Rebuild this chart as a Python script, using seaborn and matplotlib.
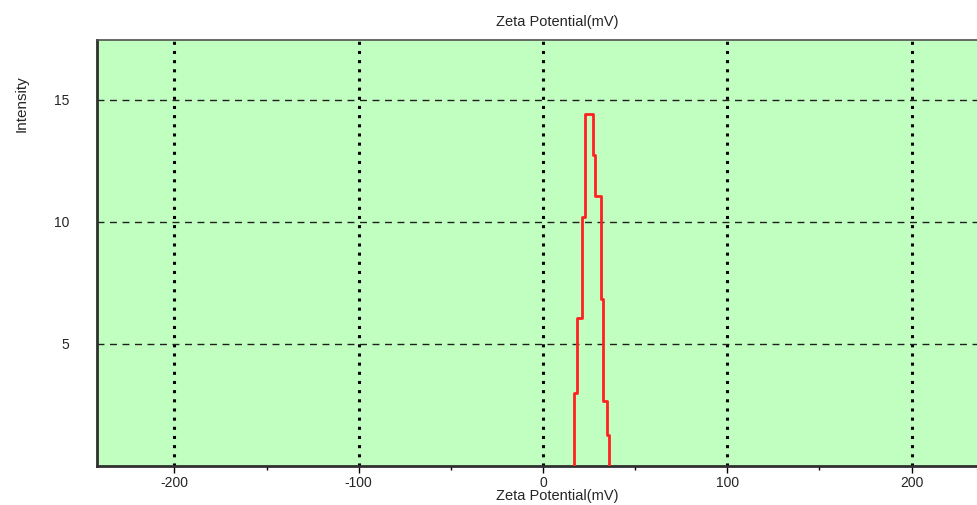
import numpy as np
import pandas as pd
import matplotlib
matplotlib.use("Agg")
import matplotlib.pyplot as plt
import seaborn as sns

# Data
zeta_edges = [16.8, 16.8, 18.3, 21.3, 22.6, 27.0, 28.1, 31.3, 32.7, 34.6, 35.8]
intensity = [0.0, 3.0, 6.05, 10.2, 14.4, 12.75, 11.05, 6.84, 2.65, 1.26, 0.0]
x_ticks = [-200, -100, 0, 100, 200]
y_ticks = [5, 10, 15]

sns.set_theme(style="white")
plt.rcParams['font.family'] = ['Liberation Sans', 'DejaVu Sans']

W, H = 978, 505
fig = plt.figure(figsize=(W / 100, H / 100), dpi=100)
left, right, top, bottom = 97, 989, 40, 466
ax = fig.add_axes([left / W, 1 - bottom / H, (right - left) / W, (bottom - top) / H])
ax.set_facecolor("#C0FFC0")

df = pd.DataFrame({"zeta": zeta_edges, "intensity": intensity})
sns.lineplot(data=df, x="zeta", y="intensity", ax=ax, estimator=None, sort=False,
             drawstyle="steps-post", color="#FF2020", linewidth=2.0, zorder=5)

ax.set_xlim(-242, 242)
ax.set_ylim(0, 17.45)
ax.set_xticks(x_ticks)
ax.set_xticklabels([str(v) for v in x_ticks])
ax.set_xticks([-150, -50, 50, 150], minor=True)
ax.set_yticks(y_ticks)
ax.set_yticklabels([str(v) for v in y_ticks])

for v in x_ticks:
    ax.axvline(v, color="black", linestyle=(0, (1, 2)), linewidth=2.2, zorder=2)
for v in y_ticks:
    ax.axhline(v, color="#202020", linestyle=(0, (5, 4)), linewidth=1.0, zorder=2)

ax.tick_params(axis="x", which="major", direction="out", length=5, width=1, color="black",
               labelsize=10, pad=2, bottom=True)
ax.tick_params(axis="x", which="minor", direction="out", length=3, width=1, color="black", bottom=True)
ax.tick_params(axis="y", which="major", direction="out", length=0, labelsize=10, pad=20, left=True)

for s in ["left", "bottom"]:
    ax.spines[s].set_color("#303030")
    ax.spines[s].set_linewidth(2.0)
ax.spines["top"].set_color("#505050")
ax.spines["top"].set_linewidth(1.2)
ax.spines["right"].set_visible(False)

ax.set_xlabel("")
ax.set_ylabel("")

fig.text(557 / W, 1 - 22 / H, "Zeta Potential(mV)", ha="center", va="center", fontsize=10.5)
fig.text(557 / W, 1 - 496 / H, "Zeta Potential(mV)", ha="center", va="center", fontsize=10.5)
fig.text(22 / W, 1 - 104 / H, "Intensity", rotation=90, ha="center", va="center",
         fontsize=11, family=['Liberation Sans Narrow', 'Liberation Sans', 'DejaVu Sans'])

fig.savefig("out.png", dpi=100)
